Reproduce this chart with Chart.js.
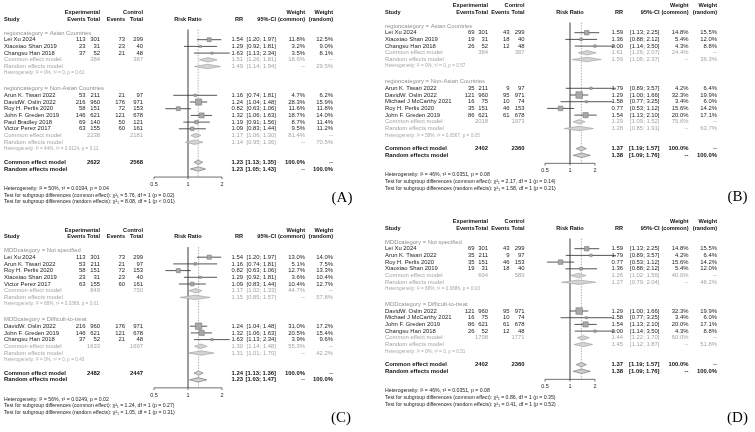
<!DOCTYPE html>
<html><head><meta charset="utf-8">
<script src="https://cdn.jsdelivr.net/npm/chart.js@4.4.1/dist/chart.umd.min.js"></script>
<style>
html,body{margin:0;padding:0;background:#fff;}
#wrap{position:relative;width:755px;height:432px;overflow:hidden;background:#fff;}
canvas{position:absolute;}
</style></head><body>
<div id="wrap">
<canvas id="cA" width="377" height="216" style="left:0;top:0"></canvas>
<canvas id="cB" width="378" height="216" style="left:377px;top:0"></canvas>
<canvas id="cC" width="377" height="216" style="left:0;top:216px"></canvas>
<canvas id="cD" width="378" height="216" style="left:377px;top:216px"></canvas>
</div>
<script>
// ---------------- DATA ----------------
var xTicks = [0.5, 1, 2];

// Panel A: by region
var A_groups = ['regioncategory = Asian Countries', 'regioncategory = Non-Asian Countries'];
var A_study = ['Lei Xu 2024','Xiaoxiao Shan 2019','Changsu Han 2018','Arun K. Tiwari 2022','DavidW. Oslin 2022','Roy H. Perlis 2020','John F. Greden 2019','Paul Bradley 2018','Victor Perez 2017'];
var A_group = [0,0,0,1,1,1,1,1,1];
var A_expEvents = [113,23,37,53,216,58,146,69,63];
var A_expTotal = [301,31,52,211,960,151,621,140,155];
var A_ctrlEvents = [73,23,21,21,176,72,121,50,60];
var A_ctrlTotal = [299,40,48,97,971,153,678,121,161];
var A_rr = [1.54,1.29,1.63,1.16,1.24,0.82,1.32,1.19,1.09];
var A_lo = [1.20,0.92,1.13,0.74,1.04,0.63,1.06,0.91,0.83];
var A_hi = [1.97,1.81,2.34,1.81,1.48,1.06,1.63,1.56,1.44];
var A_wCommon = [11.8,3.2,3.5,4.7,28.3,11.6,18.7,8.7,9.5];
var A_wRandom = [12.5,9.0,8.1,6.2,15.9,11.8,14.0,11.4,11.2];
var A_sgExpTotal = [384,2238];
var A_sgCtrlTotal = [387,2181];
var A_sgCommon = [1.51,1.17], A_sgCommonLo = [1.26,1.06], A_sgCommonHi = [1.81,1.30];
var A_sgRandom = [1.49,1.14], A_sgRandomLo = [1.14,0.95], A_sgRandomHi = [1.94,1.36];
var A_sgWCommon = [18.6,81.4], A_sgWRandom = [29.5,70.5];
var A_sgHet = ['Heterogeneity: I² = 0%, τ² = 0, p = 0.61','Heterogeneity: I² = 44%, τ² = 0.0124, p = 0.11'];
var A_totals = [2622,2568];
var A_overallCommon = [1.23,1.13,1.35];
var A_overallRandom = [1.23,1.05,1.43];
var A_footer = ['Heterogeneity: I² = 50%, τ² = 0.0194, p = 0.04',
  'Test for subgroup differences (common effect): χ²₁ = 5.76, df = 1 (p = 0.02)',
  'Test for subgroup differences (random effects): χ²₁ = 8.08, df = 1 (p < 0.01)'];

// Panel B: by region (alternative outcome)
var B_groups = ['regioncategory = Asian Countries', 'regioncategory = Non-Asian Countries'];
var B_study = ['Lei Xu 2024','Xiaoxiao Shan 2019','Changsu Han 2018','Arun K. Tiwari 2022','DavidW. Oslin 2022','Michael J McCarthy 2021','Roy H. Perlis 2020','John F. Greden 2019'];
var B_group = [0,0,0,1,1,1,1,1];
var B_expEvents = [69,19,26,35,121,16,35,86];
var B_expTotal = [301,31,52,211,960,75,151,621];
var B_ctrlEvents = [43,18,12,9,95,10,46,61];
var B_ctrlTotal = [299,40,48,97,971,74,153,678];
var B_rr = [1.59,1.36,2.00,1.79,1.29,1.58,0.77,1.54];
var B_lo = [1.13,0.88,1.14,0.89,1.00,0.77,0.53,1.13];
var B_hi = [2.25,2.12,3.50,3.57,1.66,3.25,1.12,2.10];
var B_wCommon = [14.8,5.4,4.3,4.2,32.3,3.4,15.6,20.0];
var B_wRandom = [15.5,12.0,8.8,6.4,19.9,6.0,14.2,17.1];
var B_sgExpTotal = [384,2018];
var B_sgCtrlTotal = [387,1973];
var B_sgCommon = [1.61,1.29], B_sgCommonLo = [1.26,1.09], B_sgCommonHi = [2.07,1.52];
var B_sgRandom = [1.59,1.28], B_sgRandomLo = [1.06,0.85], B_sgRandomHi = [2.37,1.91];
var B_sgWCommon = [24.4,75.6], B_sgWRandom = [36.3,63.7];
var B_sgHet = ['Heterogeneity: I² = 0%, τ² = 0, p = 0.57','Heterogeneity: I² = 58%, τ² = 0.0567, p = 0.05'];
var B_totals = [2402,2360];
var B_overallCommon = [1.37,1.19,1.57];
var B_overallRandom = [1.38,1.09,1.76];
var B_footer = ['Heterogeneity: I² = 46%, τ² = 0.0351, p = 0.08',
  'Test for subgroup differences (common effect): χ²₁ = 2.17, df = 1 (p = 0.14)',
  'Test for subgroup differences (random effects): χ²₁ = 1.58, df = 1 (p = 0.21)'];

// Panel C: by MDD category
var C_groups = ['MDDcategory = Not specified', 'MDDcategory = Difficult-to-treat'];
var C_study = ['Lei Xu 2024','Arun K. Tiwari 2022','Roy H. Perlis 2020','Xiaoxiao Shan 2019','Victor Perez 2017','DavidW. Oslin 2022','John F. Greden 2019','Changsu Han 2018'];
var C_group = [0,0,0,0,0,1,1,1];
var C_expEvents = [113,53,58,23,63,216,146,37];
var C_expTotal = [301,211,151,31,155,960,621,52];
var C_ctrlEvents = [73,21,72,23,60,176,121,21];
var C_ctrlTotal = [299,97,153,40,161,971,678,48];
var C_rr = [1.54,1.16,0.82,1.29,1.09,1.24,1.32,1.63];
var C_lo = [1.20,0.74,0.63,0.92,0.83,1.04,1.06,1.13];
var C_hi = [1.97,1.81,1.06,1.81,1.44,1.48,1.63,2.34];
var C_wCommon = [13.0,5.1,12.7,3.6,10.4,31.0,20.5,3.9];
var C_wRandom = [14.0,7.5,13.3,10.4,12.7,17.2,15.4,9.6];
var C_sgExpTotal = [849,1633];
var C_sgCtrlTotal = [750,1697];
var C_sgCommon = [1.17,1.30], C_sgCommonLo = [1.02,1.14], C_sgCommonHi = [1.33,1.48];
var C_sgRandom = [1.15,1.31], C_sgRandomLo = [0.85,1.01], C_sgRandomHi = [1.57,1.70];
var C_sgWCommon = [44.7,55.3], C_sgWRandom = [57.8,42.2];
var C_sgHet = ['Heterogeneity: I² = 68%, τ² = 0.0368, p = 0.01','Heterogeneity: I² = 0%, τ² = 0, p = 0.43'];
var C_totals = [2482,2447];
var C_overallCommon = [1.24,1.13,1.36];
var C_overallRandom = [1.23,1.03,1.47];
var C_footer = ['Heterogeneity: I² = 56%, τ² = 0.0249, p = 0.02',
  'Test for subgroup differences (common effect): χ²₁ = 1.24, df = 1 (p = 0.27)',
  'Test for subgroup differences (random effects): χ²₁ = 1.05, df = 1 (p = 0.31)'];

// Panel D: by MDD category (alternative outcome)
var D_groups = ['MDDcategory = Not specified', 'MDDcategory = Difficult-to-treat'];
var D_study = ['Lei Xu 2024','Arun K. Tiwari 2022','Roy H. Perlis 2020','Xiaoxiao Shan 2019','DavidW. Oslin 2022','Michael J McCarthy 2021','John F. Greden 2019','Changsu Han 2018'];
var D_group = [0,0,0,0,1,1,1,1];
var D_expEvents = [69,35,35,19,121,16,86,26];
var D_expTotal = [301,211,151,31,960,75,621,52];
var D_ctrlEvents = [43,9,46,18,95,10,61,12];
var D_ctrlTotal = [299,97,153,40,971,74,678,48];
var D_rr = [1.59,1.79,0.77,1.36,1.29,1.58,1.54,2.00];
var D_lo = [1.13,0.89,0.53,0.88,1.00,0.77,1.13,1.14];
var D_hi = [2.25,3.57,1.12,2.12,1.66,3.25,2.10,3.50];
var D_wCommon = [14.8,4.2,15.6,5.4,32.3,3.4,20.0,4.3];
var D_wRandom = [15.5,6.4,14.2,12.0,19.9,6.0,17.1,8.8];
var D_sgExpTotal = [694,1708];
var D_sgCtrlTotal = [589,1771];
var D_sgCommon = [1.26,1.44], D_sgCommonLo = [1.02,1.22], D_sgCommonHi = [1.56,1.70];
var D_sgRandom = [1.27,1.45], D_sgRandomLo = [0.79,1.12], D_sgRandomHi = [2.04,1.87];
var D_sgWCommon = [40.0,60.0], D_sgWRandom = [48.2,51.8];
var D_sgHet = ['Heterogeneity: I² = 68%, τ² = 0.0686, p = 0.03','Heterogeneity: I² = 0%, τ² = 0, p = 0.51'];
var D_totals = [2402,2360];
var D_overallCommon = [1.37,1.19,1.57];
var D_overallRandom = [1.38,1.09,1.76];
var D_footer = ['Heterogeneity: I² = 46%, τ² = 0.0351, p = 0.08',
  'Test for subgroup differences (common effect): χ²₁ = 0.86, df = 1 (p = 0.35)',
  'Test for subgroup differences (random effects): χ²₁ = 0.41, df = 1 (p = 0.52)'];

// ---------------- LAYOUT / STYLE ----------------
var SANS = '"Liberation Sans", Arial, Helvetica, sans-serif';
var SERIF = '"Liberation Serif", "Times New Roman", serif';
var colsAC = {study:4, ee:85.5, et:100, ce:125, ct:143, rr:243, ci:276, wc:305, wr:333};
var colsBD = {study:8, ee:97.5, et:111, ce:132.5, ct:147.5, rr:246, ci:282.5, wc:311.5, wr:340};
var layA = {y0:33, step:6.7, xOne:188, ppd:34, cols:colsAC, label:'(A)', lx:342, ly:198};
var layB = {y0:26, step:6.7, xOne:193, ppd:25, cols:colsBD, label:'(B)', lx:360.5, ly:197.5};
var layC = {y0:34.5, step:6.7, xOne:188, ppd:34, cols:colsAC, label:'(C)', lx:341, ly:202};
var layD = {y0:26, step:6.7, xOne:193, ppd:25, cols:colsBD, label:'(D)', lx:360.5, ly:202};

function pack(p) {
  const g = n => window[p + '_' + n];
  return {
    groups:g('groups'), study:g('study'), group:g('group'),
    expEvents:g('expEvents'), expTotal:g('expTotal'), ctrlEvents:g('ctrlEvents'), ctrlTotal:g('ctrlTotal'),
    rr:g('rr'), lo:g('lo'), hi:g('hi'), wCommon:g('wCommon'), wRandom:g('wRandom'),
    sgExpTotal:g('sgExpTotal'), sgCtrlTotal:g('sgCtrlTotal'),
    sgCommon:g('sgCommon'), sgCommonLo:g('sgCommonLo'), sgCommonHi:g('sgCommonHi'),
    sgRandom:g('sgRandom'), sgRandomLo:g('sgRandomLo'), sgRandomHi:g('sgRandomHi'),
    sgWCommon:g('sgWCommon'), sgWRandom:g('sgWRandom'), sgHet:g('sgHet'),
    totals:g('totals'), overallCommon:g('overallCommon'), overallRandom:g('overallRandom'), footer:g('footer')
  };
}

function buildRows(P) {
  const rows = {group:[], study:[], sgCommon:[], sgRandom:[], sgHet:[]};
  let r = 0;
  P.groups.forEach((gname, gi) => {
    rows.group[gi] = r; r += 1;
    P.group.forEach((gg, i) => { if (gg === gi) { rows.study[i] = r; r += 1; } });
    rows.sgCommon[gi] = r; r += 1;
    rows.sgRandom[gi] = r; r += 1;
    rows.sgHet[gi] = r;
    r += (gi < P.groups.length - 1) ? 2.3 : 2.0;
  });
  rows.oCommon = r; rows.oRandom = r + 1;
  rows.axis = r + 2.2; rows.tick = r + 3.3;
  rows.footer = [r + 3.9, r + 4.9, r + 5.9];
  rows.head1 = -3.05; rows.head2 = -2.05;
  rows.top = -0.5;
  return rows;
}

var DH = 0.33; // diamond half height (rows)
function buildDatasets(P, rows) {
  const ds = [];
  ds.push({
    label:'studies', showLine:false, order:0, clip:false,
    data:P.rr.map((v, i) => ({x:v, y:rows.study[i]})),
    pointStyle:'rect',
    pointRadius:P.wCommon.map(w => 1.17 * Math.sqrt(w) / Math.SQRT2),
    pointBackgroundColor:'#a8a8a8', pointBorderColor:'#707070', pointBorderWidth:0.5
  });
  P.rr.forEach((v, i) => ds.push({
    label:'ci', order:1, clip:false, fill:false, pointRadius:0,
    borderColor:'#2a2a2a', borderWidth:0.8,
    data:[{x:P.lo[i], y:rows.study[i]}, {x:P.hi[i], y:rows.study[i]}]
  }));
  const diamond = (est, lo, hi, row, fillC, lineC) => ({
    label:'diamond', order:2, clip:false, fill:'shape', pointRadius:0, tension:0,
    backgroundColor:fillC, borderColor:lineC, borderWidth:0.6,
    data:[{x:lo, y:row}, {x:est, y:row - DH}, {x:hi, y:row}, {x:est, y:row + DH}, {x:lo, y:row}]
  });
  P.groups.forEach((g, gi) => {
    ds.push(diamond(P.sgCommon[gi], P.sgCommonLo[gi], P.sgCommonHi[gi], rows.sgCommon[gi], '#d4d4d4', '#9a9a9a'));
    ds.push(diamond(P.sgRandom[gi], P.sgRandomLo[gi], P.sgRandomHi[gi], rows.sgRandom[gi], '#d4d4d4', '#9a9a9a'));
  });
  ds.push(diamond(P.overallCommon[0], P.overallCommon[1], P.overallCommon[2], rows.oCommon, '#cfcfcf', '#6a6a6a'));
  ds.push(diamond(P.overallRandom[0], P.overallRandom[1], P.overallRandom[2], rows.oRandom, '#cfcfcf', '#6a6a6a'));
  ds.push({label:'null', order:3, clip:false, pointRadius:0, borderColor:'#8a8a8a', borderWidth:0.9,
    data:[{x:1, y:rows.top}, {x:1, y:rows.axis}]});
  ds.push({label:'common', order:3, clip:false, pointRadius:0, borderColor:'#777', borderWidth:0.6, borderDash:[1.4,1.4],
    data:[{x:P.overallCommon[0], y:rows.top}, {x:P.overallCommon[0], y:rows.axis}]});
  return ds;
}

const fmt = v => v.toFixed(2);
const ciTxt = (lo, hi) => '[' + lo.toFixed(2) + '; ' + hi.toFixed(2) + ']';
const pct = w => w.toFixed(1) + '%';

function textPlugin(P, rows, lay) {
  return {
    id:'forestText',
    afterDatasetsDraw(chart) {
      const ctx = chart.ctx, ys = chart.scales.y, xs = chart.scales.x;
      const c = lay.cols;
      const Y = r => ys.getPixelForValue(r);
      const F = (sz, b) => (b ? 'bold ' : '') + sz + 'px ' + SANS;
      const T = (s, x, r, align, font, color) => {
        ctx.font = font; ctx.fillStyle = color; ctx.textAlign = align; ctx.textBaseline = 'middle';
        ctx.fillText(String(s), x, Y(r));
      };
      ctx.save();
      const BODY = 5.9, HDR = F(5.6, true);
      T('Experimental', c.et, rows.head1, 'right', HDR, '#111');
      T('Control', c.ct, rows.head1, 'right', HDR, '#111');
      T('Weight', c.wc, rows.head1, 'right', HDR, '#111');
      T('Weight', c.wr, rows.head1, 'right', HDR, '#111');
      T('Study', c.study, rows.head2, 'left', HDR, '#111');
      T('Events', c.ee, rows.head2, 'right', HDR, '#111');
      T('Total', c.et, rows.head2, 'right', HDR, '#111');
      T('Events', c.ce, rows.head2, 'right', HDR, '#111');
      T('Total', c.ct, rows.head2, 'right', HDR, '#111');
      T('Risk Ratio', xs.getPixelForValue(1), rows.head2, 'center', HDR, '#111');
      T('RR', c.rr, rows.head2, 'right', HDR, '#111');
      T('95%-CI', c.ci, rows.head2, 'right', HDR, '#111');
      T('(common)', c.wc, rows.head2, 'right', HDR, '#111');
      T('(random)', c.wr, rows.head2, 'right', HDR, '#111');
      const SF = F(BODY), SC = '#1d1d1d';
      P.study.forEach((s, i) => {
        const r = rows.study[i];
        T(s, c.study, r, 'left', SF, SC);
        T(P.expEvents[i], c.ee, r, 'right', SF, SC);
        T(P.expTotal[i], c.et, r, 'right', SF, SC);
        T(P.ctrlEvents[i], c.ce, r, 'right', SF, SC);
        T(P.ctrlTotal[i], c.ct, r, 'right', SF, SC);
        T(fmt(P.rr[i]), c.rr, r, 'right', SF, SC);
        T(ciTxt(P.lo[i], P.hi[i]), c.ci, r, 'right', SF, SC);
        T(pct(P.wCommon[i]), c.wc, r, 'right', SF, SC);
        T(pct(P.wRandom[i]), c.wr, r, 'right', SF, SC);
      });
      const GC = '#a3a3a3';
      P.groups.forEach((g, gi) => {
        T(g, c.study, rows.group[gi], 'left', F(BODY), '#8f8f8f');
        let r = rows.sgCommon[gi];
        T('Common effect model', c.study, r, 'left', F(BODY), GC);
        T(P.sgExpTotal[gi], c.et, r, 'right', F(BODY), GC);
        T(P.sgCtrlTotal[gi], c.ct, r, 'right', F(BODY), GC);
        T(fmt(P.sgCommon[gi]), c.rr, r, 'right', F(BODY), GC);
        T(ciTxt(P.sgCommonLo[gi], P.sgCommonHi[gi]), c.ci, r, 'right', F(BODY), GC);
        T(pct(P.sgWCommon[gi]), c.wc, r, 'right', F(BODY), GC);
        T('--', c.wr, r, 'right', F(BODY), GC);
        r = rows.sgRandom[gi];
        T('Random effects model', c.study, r, 'left', F(BODY), GC);
        T(fmt(P.sgRandom[gi]), c.rr, r, 'right', F(BODY), GC);
        T(ciTxt(P.sgRandomLo[gi], P.sgRandomHi[gi]), c.ci, r, 'right', F(BODY), GC);
        T('--', c.wc, r, 'right', F(BODY), GC);
        T(pct(P.sgWRandom[gi]), c.wr, r, 'right', F(BODY), GC);
        T(P.sgHet[gi], c.study, rows.sgHet[gi], 'left', F(4.7), '#a8a8a8');
      });
      const OF = F(BODY, true), OC = '#111';
      T('Common effect model', c.study, rows.oCommon, 'left', OF, OC);
      T(P.totals[0], c.et, rows.oCommon, 'right', OF, OC);
      T(P.totals[1], c.ct, rows.oCommon, 'right', OF, OC);
      T(fmt(P.overallCommon[0]), c.rr, rows.oCommon, 'right', OF, OC);
      T(ciTxt(P.overallCommon[1], P.overallCommon[2]), c.ci, rows.oCommon, 'right', OF, OC);
      T('100.0%', c.wc, rows.oCommon, 'right', OF, OC);
      T('--', c.wr, rows.oCommon, 'right', OF, OC);
      T('Random effects model', c.study, rows.oRandom, 'left', OF, OC);
      T(fmt(P.overallRandom[0]), c.rr, rows.oRandom, 'right', OF, OC);
      T(ciTxt(P.overallRandom[1], P.overallRandom[2]), c.ci, rows.oRandom, 'right', OF, OC);
      T('--', c.wc, rows.oRandom, 'right', OF, OC);
      T('100.0%', c.wr, rows.oRandom, 'right', OF, OC);
      P.footer.forEach((s, k) => T(s, c.study, rows.footer[k], 'left', F(5.2), '#1d1d1d'));
      const ay = Y(rows.axis);
      const x0 = xs.getPixelForValue(xTicks[0]), x1 = xs.getPixelForValue(xTicks[xTicks.length - 1]);
      ctx.strokeStyle = '#333'; ctx.lineWidth = 0.7;
      ctx.beginPath(); ctx.moveTo(x0, ay); ctx.lineTo(x1, ay);
      xTicks.forEach(t => { const tx = xs.getPixelForValue(t); ctx.moveTo(tx, ay); ctx.lineTo(tx, ay + 2.2); });
      ctx.stroke();
      xTicks.forEach(t => T(String(t), xs.getPixelForValue(t), rows.tick, 'center', F(5.5), '#1d1d1d'));
      ctx.font = '15px ' + SERIF; ctx.fillStyle = '#000'; ctx.textAlign = 'center'; ctx.textBaseline = 'middle';
      ctx.fillText(lay.label, lay.lx, lay.ly);
      ctx.restore();
    }
  };
}

function makePanel(id, prefix, lay) {
  const P = pack(prefix);
  const rows = buildRows(P);
  const cv = document.getElementById(id);
  const W = cv.width, H = cv.height;
  const padding = {
    left: lay.xOne - 2 * lay.ppd,
    right: W - (lay.xOne + 2 * lay.ppd),
    top: lay.y0 + rows.top * lay.step,
    bottom: H - (lay.y0 + rows.axis * lay.step)
  };
  new Chart(cv.getContext('2d'), {
    type:'line',
    data:{datasets:buildDatasets(P, rows)},
    options:{
      responsive:false, animation:false, events:[],
      layout:{padding},
      elements:{line:{tension:0}},
      plugins:{legend:{display:false}, tooltip:{enabled:false}},
      scales:{
        x:{type:'logarithmic', min:0.25, max:4, display:false},
        y:{type:'linear', min:rows.top, max:rows.axis, reverse:true, display:false}
      }
    },
    plugins:[textPlugin(P, rows, lay)]
  });
}

makePanel('cA', 'A', layA);
makePanel('cB', 'B', layB);
makePanel('cC', 'C', layC);
makePanel('cD', 'D', layD);
</script>
</body></html>
